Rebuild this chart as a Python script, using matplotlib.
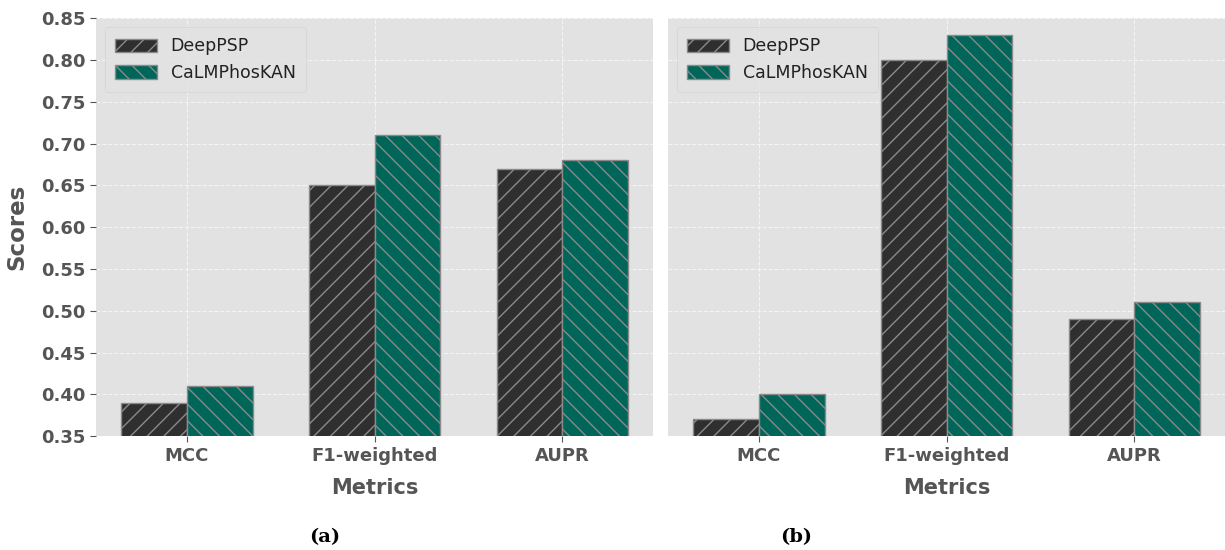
import matplotlib
matplotlib.use("Agg")
import matplotlib.pyplot as plt
import numpy as np

plt.style.use("ggplot")
plt.rcParams['hatch.color'] = '#8a8a8a'
plt.rcParams['hatch.linewidth'] = 1.0

metrics = ["MCC", "F1-weighted", "AUPR"]
models = ["DeepPSP", "CaLMPhosKAN"]
scores_a_deeppsp = [0.39, 0.65, 0.67]
scores_a_calm = [0.41, 0.71, 0.68]
scores_b_deeppsp = [0.37, 0.80, 0.49]
scores_b_calm = [0.40, 0.83, 0.51]
panel_labels = ["(a)", "(b)"]

colors = ["#2f2f2f", "#00665a"]
hatches = ["//", "\\\\"]

fig = plt.figure(figsize=(12.25, 5.5), dpi=100)
ax1 = fig.add_axes([0.0784, 0.207, 0.455, 0.760])
ax2 = fig.add_axes([0.5453, 0.207, 0.455, 0.760])

x = np.arange(len(metrics))
w = 0.35
for ax, (d, c), lab in zip([ax1, ax2],
                           [(scores_a_deeppsp, scores_a_calm), (scores_b_deeppsp, scores_b_calm)],
                           panel_labels):
    ax.set_facecolor("#e2e2e2")
    for i, (vals, col, h, name) in enumerate(zip([d, c], colors, hatches, models)):
        ax.bar(x + (i - 0.5) * w, vals, w, color=col, hatch=h, edgecolor="#8a8a8a",
               linewidth=1.0, label=name, zorder=3)
    ax.set_ylim(0.35, 0.85)
    ax.set_yticks(np.arange(0.35, 0.851, 0.05))
    ax.set_xticks(x)
    ax.set_xticklabels(metrics, fontsize=13, fontweight="bold", color="#555555")
    ax.grid(True, color="#f4f4f4", linestyle="--", linewidth=0.8, zorder=0)
    ax.set_axisbelow(True)
    ax.set_xlabel("Metrics", fontsize=15, fontweight="bold", color="#555555", labelpad=10)
    ax.tick_params(axis="both", colors="#555555", length=4)
    for s in ax.spines.values():
        s.set_visible(False)
    leg = ax.legend(loc="upper left", fontsize=12.5, frameon=True, facecolor="#e2e2e2",
                    edgecolor="#d0d0d0", handlelength=2.4, handleheight=0.8, borderpad=0.6)
    for t in leg.get_texts():
        t.set_color("#222222")

ax1.set_yticklabels([f"{v:.2f}" for v in np.arange(0.35, 0.851, 0.05)],
                    fontsize=13, fontweight="bold", color="#555555")
ax1.set_ylabel("Scores", fontsize=16.5, fontweight="bold", color="#555555", labelpad=9)
ax2.tick_params(axis="y", left=False, labelleft=False)

fig.text(0.265, 0.024, panel_labels[0], fontsize=14, fontweight="bold", family="DejaVu Serif",
         ha="center", va="center", color="black")
fig.text(0.650, 0.024, panel_labels[1], fontsize=14, fontweight="bold", family="DejaVu Serif",
         ha="center", va="center", color="black")

fig.savefig("out.png", dpi=100, facecolor="white")
